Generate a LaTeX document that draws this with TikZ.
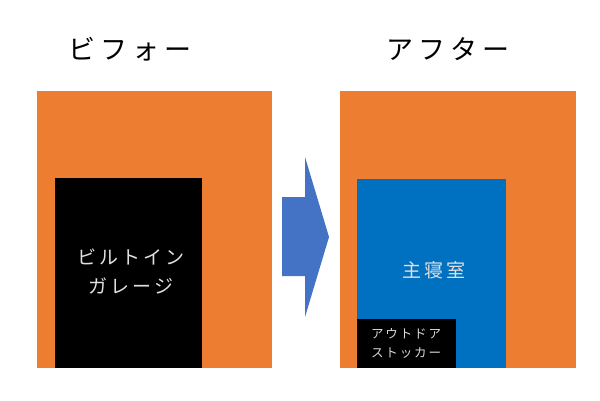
\documentclass[tikz,border=0pt]{standalone}
\usepackage{fontspec}
\newfontfamily\jp[LetterSpace=18]{Noto Sans CJK JP}
\newfontfamily\jpb[LetterSpace=15]{Noto Sans CJK JP}
\definecolor{orng}{HTML}{ED7D31}
\definecolor{blu}{HTML}{0070C0}
\definecolor{arrw}{HTML}{4472C4}
\begin{document}
\begin{tikzpicture}[x=1pt,y=-1pt,
  title/.style={font=\jp\fontsize{27}{30}\selectfont, text=black},
  lbl/.style={font=\jpb\fontsize{19}{29}\selectfont, text=white!88!black, align=center},
  small/.style={font=\jpb\fontsize{12.5}{19}\selectfont, text=white!85!black, align=center}]
\useasboundingbox (0,0) rectangle (600,400);
\fill[white] (0,0) rectangle (600,400);
% before
\fill[orng] (37,91) rectangle (272,368);
\fill[black] (55,178) rectangle (202,368);
\node[title] (t1) at (130,49) {ビフォー};
\node[lbl] (g) at (131,272) {ビルトイン\\ガレージ};
% after
\fill[orng] (340,91) rectangle (576,368);
\fill[blu] (357,179) rectangle (506,368);
\fill[black] (357,319) rectangle (456,368);
\node[title] (t2) at (448,49) {アフター};
\node[lbl] (m) at (434,270) {主寝室};
\node[small] (s) at (406,343) {アウトドア\\ストッカー};
% arrow
\fill[arrw] (282,197) -- (305,197) -- (305,157) -- (329,237) -- (305,317) -- (305,276) -- (282,276) -- cycle;
\end{tikzpicture}
\end{document}
